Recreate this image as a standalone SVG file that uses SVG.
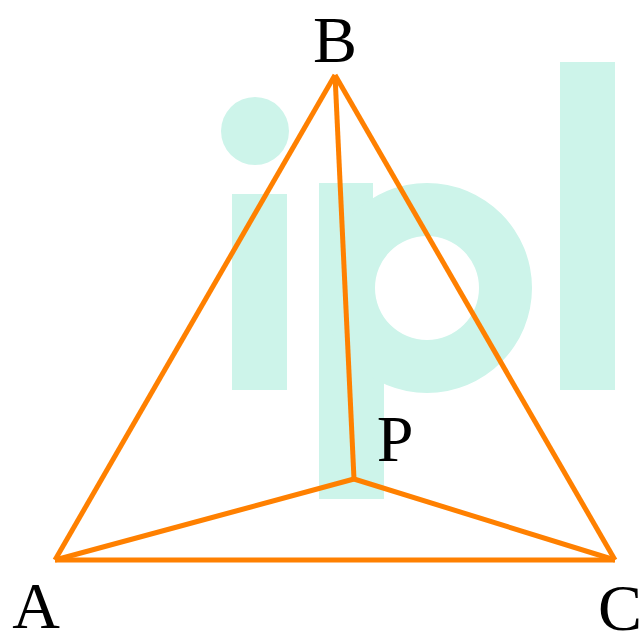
<svg xmlns="http://www.w3.org/2000/svg" width="642" height="632" viewBox="0 0 642 632">
<style>
.wm{fill:#cdf4ea;stroke:none}
.edge{stroke:#ff8000;stroke-width:5;fill:none;stroke-linecap:butt}
.lbl{font-family:"Liberation Serif","Times New Roman",serif;font-size:66px;fill:#000;text-anchor:middle}
</style>
<rect width="642" height="632" fill="#ffffff"/>
<g id="watermark">
<circle class="wm" cx="255" cy="131" r="34"/>
<rect class="wm" x="232" y="194" width="55" height="196"/>
<rect class="wm" x="319" y="183" width="54" height="316"/>
<rect class="wm" x="319" y="330" width="65" height="169"/>
<path class="wm" fill-rule="evenodd" d="M427 183a105 105 0 1 1 0 210a105 105 0 1 1 0-210zM427 236a52 52 0 1 0 0 104a52 52 0 1 0 0-104z"/>
<rect class="wm" x="560" y="62" width="55" height="328"/>
</g>
<g id="connectors">
<line class="edge" x1="55" y1="560" x2="335" y2="75"/>
<line class="edge" x1="335" y1="75" x2="615" y2="560"/>
<line class="edge" x1="55" y1="560" x2="615" y2="560"/>
<line class="edge" x1="354" y1="479" x2="55" y2="560"/>
<line class="edge" x1="354" y1="479" x2="335" y2="75"/>
<line class="edge" x1="354" y1="479" x2="615" y2="560"/>
</g>
<g id="node-A"><text class="lbl" x="36" y="628">A</text></g>
<g id="node-B"><text class="lbl" x="335" y="62">B</text></g>
<g id="node-C"><text class="lbl" x="620" y="630">C</text></g>
<g id="node-P"><text class="lbl" x="395" y="461">P</text></g>
</svg>
